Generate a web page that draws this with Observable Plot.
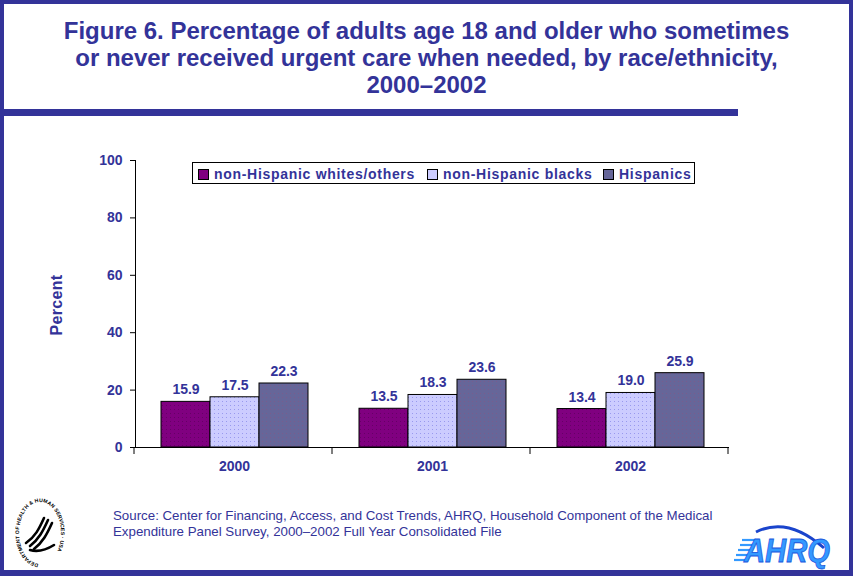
<!DOCTYPE html>
<html><head><meta charset="utf-8">
<script src="https://cdn.jsdelivr.net/npm/d3@7"></script>
<script src="https://cdn.jsdelivr.net/npm/@observablehq/plot@0.6"></script>
<style>
body{margin:0;background:#fff;}
#fig{position:relative;width:853px;height:576px;overflow:hidden;background:#fff;font-family:"Liberation Sans",Arial,sans-serif;color:#333399;}
#frame{position:absolute;left:0;top:0;width:853px;height:576px;box-sizing:border-box;border-style:solid;border-color:#333399;border-width:4px 4px 6px 4px;pointer-events:none;}
#title{position:absolute;left:0;top:17px;width:853px;text-align:center;font-weight:bold;font-size:24px;line-height:27px;}
#rule{position:absolute;left:0;top:109px;width:738px;height:7px;background:#333399;}
#plot{position:absolute;left:0;top:120px;}
#plot svg text{fill:#333399;}
#ylabel{position:absolute;left:57px;top:305px;transform:translate(-50%,-50%) rotate(-90deg);font-weight:bold;font-size:16px;letter-spacing:0.3px;white-space:nowrap;}
#legend{position:absolute;left:192px;top:162px;width:503px;height:22px;box-sizing:border-box;border:1px solid #000;background:#fff;font-weight:bold;font-size:14px;letter-spacing:0.7px;}
#legend .it{display:flex;align-items:center;position:absolute;top:3px;}
#legend .sw{width:9px;height:9px;border:1px solid #000;margin-right:5px;}
#source{position:absolute;left:113px;top:508px;font-size:13.3px;line-height:16px;}
#hhs{position:absolute;left:8px;top:496px;}
#ahrq{position:absolute;left:726px;top:514px;overflow:visible;}
</style></head><body>
<div id="fig">
  <div id="title">Figure 6. Percentage of adults age 18 and older who sometimes<br>or never received urgent care when needed, by race/ethnicity,<br>2000–2002</div>
  <div id="rule"></div>
  <div id="plot"></div>
  <div id="ylabel">Percent</div>
  <div id="legend"></div>
  <div id="source">Source: Center for Financing, Access, and Cost Trends, AHRQ, Household Component of the Medical<br>Expenditure Panel Survey, 2000–2002 Full Year Consolidated File</div>
  <svg id="hhs" width="60" height="74" viewBox="0 0 60 74">
    <defs><path id="ring" d="M 32 68 A 21 31 0 1 1 32.1 68"/></defs>
    <text font-family="Liberation Sans, Arial" font-size="5.2" font-weight="bold" fill="#000" letter-spacing="0.1"><textPath href="#ring" startOffset="1%">DEPARTMENT OF HEALTH &amp; HUMAN SERVICES · USA</textPath></text>
    <g fill="none" stroke="#000" stroke-width="2.6" stroke-linecap="round">
      <path d="M36 22 C 31 33, 27 41, 18 47"/>
      <path d="M40 24 C 35 35, 31 43, 22 50"/>
      <path d="M44 27 C 39 38, 35 46, 26 53"/>
      <path d="M22 54 C 29 56, 38 54, 46 49"/>
    </g>
  </svg>
  <svg id="ahrq" width="118" height="54" viewBox="0 0 118 54">
    <path d="M30 18 Q 62 2 98 34" fill="none" stroke="#1a44cc" stroke-width="3"/>
    <g stroke="#3399ff" stroke-width="2.2">
      <line x1="16" y1="26" x2="30" y2="26"/><line x1="14" y1="31" x2="28" y2="31"/><line x1="12" y1="36" x2="26" y2="36"/><line x1="10" y1="41" x2="24" y2="41"/><line x1="8" y1="46" x2="22" y2="46"/>
    </g>
    <text x="18" y="48" font-family="Liberation Sans, Arial" font-size="33" font-weight="bold" font-style="italic" fill="#3399ff" stroke="#1a55dd" stroke-width="0.8" textLength="86" lengthAdjust="spacingAndGlyphs">AHRQ</text>
  </svg>
  <div id="frame"></div>
</div>
<script>
const years = ["2000", "2001", "2002"];
const groups = ["non-Hispanic whites/others", "non-Hispanic blacks", "Hispanics"];
const whites = [15.9, 13.5, 13.4];
const blacks = [17.5, 18.3, 19.0];
const hispanics = [22.3, 23.6, 25.9];
const colors = ["#800080", "#CCCCFF", "#666699"];
const dotColors = ["#660066", "#9999ee", "#7a5c8c"];
const yTicks = [0, 20, 40, 60, 80, 100];

const series = [whites, blacks, hispanics];
const data = years.flatMap((yr, i) => series.map((s, j) => ({year: yr, group: groups[j], value: s[i]})));
const patternIds = groups.map((g, i) => `pat${i}`);

const chart = Plot.plot({
  width: 853, height: 370,
  marginLeft: 134, marginRight: 123, marginTop: 40, marginBottom: 43,
  style: {fontFamily: "Liberation Sans, Arial, sans-serif", fontSize: "14px", fontWeight: "bold", color: "#000", background: "transparent", overflow: "visible"},
  facet: {data, x: "year", label: null},
  fx: {domain: years, padding: 0, label: null, axis: "bottom", tickSize: 0, tickPadding: 14},
  x: {domain: groups, axis: null, paddingInner: 0, paddingOuter: 0.487},
  y: {domain: [0, 100], ticks: yTicks, tickSize: 5, tickPadding: 8, line: true, label: null},
  color: {domain: groups, range: patternIds.map(id => `url(#${id})`)},
  marks: [
    Plot.barY(data, {x: "group", y: "value", fill: "group", stroke: "#000", strokeWidth: 1}),
    Plot.text(data, {x: "group", y: "value", text: d => d.value.toFixed(1), dy: -12, fill: "#333399", fontSize: 14, fontWeight: "bold"}),
    Plot.ruleY([0], {stroke: "#000", strokeWidth: 1})
  ]
});
document.getElementById("plot").appendChild(chart);

// textured fills for the bars (base colour + fine dots)
const defs = d3.select(chart).insert("defs", ":first-child");
patternIds.forEach((id, i) => {
  const p = defs.append("pattern").attr("id", id).attr("patternUnits", "userSpaceOnUse").attr("width", 4).attr("height", 4);
  p.append("rect").attr("width", 4).attr("height", 4).attr("fill", colors[i]);
  p.append("rect").attr("x", 1).attr("y", 1).attr("width", 1).attr("height", 1).attr("fill", dotColors[i]);
});

// boundary ticks between year groups, from Plot's fx and y scales
const fxs = chart.scale("fx"), ysc = chart.scale("y");
const y0 = ysc.apply ? ysc.apply(0) : ysc.range[0];
const r0 = fxs.range[0], step = fxs.step;
const bounds = d3.range(years.length + 1).map(i => r0 + i * step);
d3.select(chart).append("g").attr("stroke", "#000")
  .selectAll("line").data(bounds).join("line")
  .attr("x1", d => d).attr("x2", d => d).attr("y1", y0).attr("y2", y0 + 7);

// legend
const legendPos = [5, 234, 410];
const lg = d3.select("#legend");
groups.forEach((g, i) => {
  const it = lg.append("div").attr("class", "it").style("left", legendPos[i] + "px");
  it.append("div").attr("class", "sw").style("background", colors[i]);
  it.append("span").text(g);
});
</script>
</body></html>
